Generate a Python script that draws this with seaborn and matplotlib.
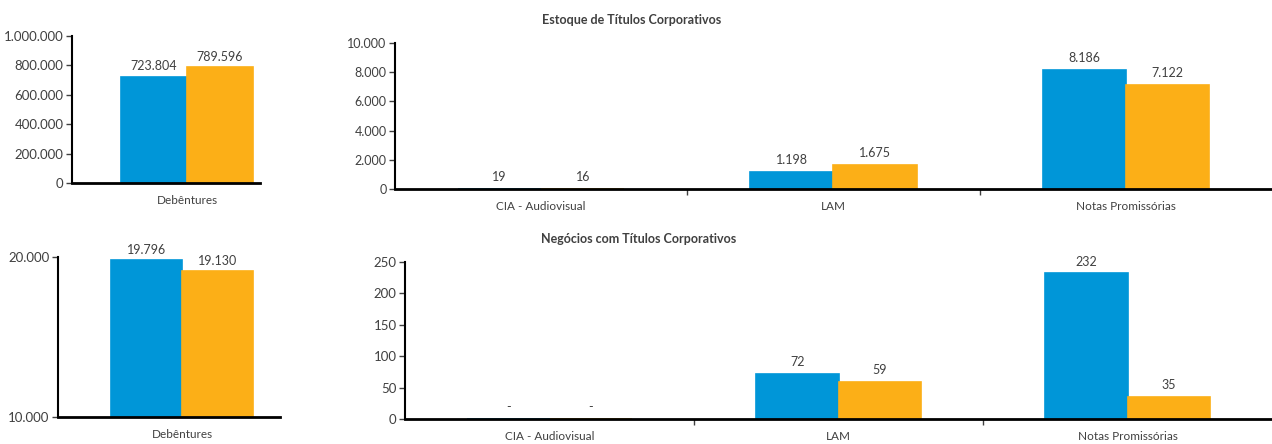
import numpy as np
import pandas as pd
import seaborn as sns
import matplotlib.pyplot as plt
from matplotlib.ticker import FuncFormatter, FixedLocator

# dados
periodos = ['Período anterior', 'Período atual']
cores = ['#0096D8', '#FCAF17']

deb_estoque = [723804, 789596]
deb_negocios = [19796, 19130]

categorias = ['CIA - Audiovisual', 'LAM', 'Notas Promissórias']
estoque_ant = [19, 1198, 8186]
estoque_atu = [16, 1675, 7122]
negocios_ant = [0, 72, 232]
negocios_atu = [0, 59, 35]

sns.set_style('white')
plt.rcParams['font.family'] = ['Lato', 'DejaVu Sans']
plt.rcParams['text.color'] = '#404040'
plt.rcParams['xtick.color'] = '#404040'
plt.rcParams['ytick.color'] = '#404040'

fmt = FuncFormatter(lambda v, p: f'{v:,.0f}'.replace(',', '.'))


def fmt_num(v):
    return '-' if v == 0 else f'{v:,.0f}'.replace(',', '.')


def long_df(cats, ant, atu):
    return pd.DataFrame({
        'categoria': list(cats) * 2,
        'periodo': [periodos[0]] * len(cats) + [periodos[1]] * len(cats),
        'valor': list(ant) + list(atu),
    })


def draw(ax, df, width, ylim, yticks, xlim, title=None, pad=3, ysize=9.5):
    sns.barplot(data=df, x='categoria', y='valor', hue='periodo', palette=cores,
                width=width, ax=ax, legend=False, saturation=1, edgecolor='none')
    # contorno fino para que barras muito pequenas fiquem visíveis
    for p in ax.patches:
        p.set_edgecolor(p.get_facecolor())
        p.set_linewidth(1.2)
    ax.set_ylim(*ylim)
    ax.set_yticks(yticks)
    ax.yaxis.set_major_formatter(fmt)
    ax.set_xlim(*xlim)
    ax.set_xlabel('')
    ax.set_ylabel('')
    for c in ax.containers:
        labels = [fmt_num(v) for v in c.datavalues]
        ax.bar_label(c, labels=labels, padding=pad, fontsize=9, color='#404040')
    sns.despine(ax=ax)
    ax.spines['left'].set_color('black')
    ax.spines['left'].set_linewidth(1.5)
    ax.spines['bottom'].set_color('black')
    ax.spines['bottom'].set_linewidth(2)
    ax.tick_params(axis='y', which='major', left=True, length=4, width=1, labelsize=ysize, pad=2)
    ax.tick_params(axis='x', which='major', bottom=False, labelsize=8.5, pad=5)
    n = len(df['categoria'].unique())
    ax.xaxis.set_minor_locator(FixedLocator([i + 0.5 for i in range(n - 1)]))
    ax.tick_params(axis='x', which='minor', bottom=True, length=4, width=1, color='#404040')
    if title:
        ax.set_title(title, fontsize=9, fontweight='bold', color='#404040', pad=14)


fig = plt.figure(figsize=(12.72, 4.44), dpi=100)

ax1 = fig.add_axes([0.0566, 0.5878, 0.1478, 0.331])
draw(ax1, long_df(['Debêntures'], [deb_estoque[0]], [deb_estoque[1]]), 0.70,
     (0, 1000000), np.arange(0, 1000001, 200000), (-0.612, 0.388))

ax2 = fig.add_axes([0.0456, 0.0608, 0.1745, 0.3604])
draw(ax2, long_df(['Debêntures'], [deb_negocios[0]], [deb_negocios[1]]), 0.64,
     (10000, 20000), [10000, 20000], (-0.559, 0.441))

ax3 = fig.add_axes([0.3105, 0.5743, 0.6895, 0.3288])
draw(ax3, long_df(categorias, estoque_ant, estoque_atu), 0.57,
     (0, 10000), np.arange(0, 10001, 2000), (-0.5, 2.5),
     title='Estoque de Títulos Corporativos', pad=4, ysize=9)

ax4 = fig.add_axes([0.3184, 0.0563, 0.6816, 0.3536])
draw(ax4, long_df(categorias, negocios_ant, negocios_atu), 0.57,
     (0, 250), np.arange(0, 251, 50), (-0.5, 2.5),
     title='Negócios com Títulos Corporativos', pad=4, ysize=9.5)
ax3.title.set_position((0.27, 1.0))
ax4.title.set_position((0.27, 1.0))

fig.savefig('out.png', dpi=100)
